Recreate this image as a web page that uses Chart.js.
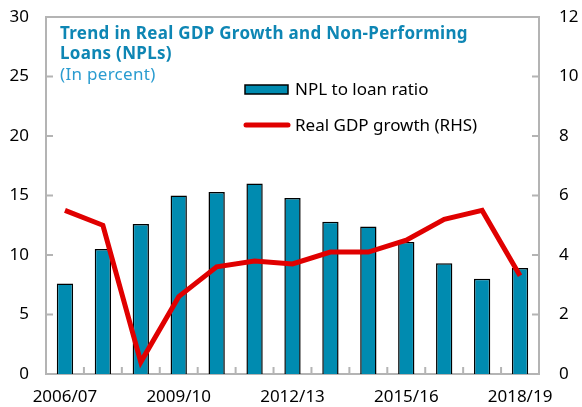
<!DOCTYPE html>
<html>
<head>
<meta charset="utf-8">
<script src="https://cdn.jsdelivr.net/npm/chart.js@4"></script>
<style>
  body { margin: 0; background: #fff; }
  #wrap { width: 582px; height: 407px; }
</style>
</head>
<body>
<div id="wrap"><canvas id="npl_chart"></canvas></div>
<script>
const years = ['2006/07', '2007/08', '2008/09', '2009/10', '2010/11', '2011/12', '2012/13',
               '2013/14', '2014/15', '2015/16', '2016/17', '2017/18', '2018/19'];
const npl_ratio = [7.6, 10.5, 12.6, 15.0, 15.3, 16.0, 14.8, 12.8, 12.4, 11.1, 9.3, 8.0, 8.9];
const gdp_growth = [5.5, 5.0, 0.4, 2.6, 3.6, 3.8, 3.7, 4.1, 4.1, 4.5, 5.2, 5.5, 3.3];

const title_lines = ['Trend in Real GDP Growth and Non-Performing', 'Loans (NPLs)'];
const subtitle = '(In percent)';
const legend_labels = ['NPL to loan ratio', 'Real GDP growth (RHS)'];

const bar_color = '#008bb0';
const line_color = '#e00000';
const frame_color = '#b4b4b4';
const font_family = '"Noto Sans", "Open Sans", sans-serif';

// title, legend, inward ticks and top border
const decorations = {
  id: 'decorations',
  afterDraw(chart) {
    const ctx = chart.ctx;
    const area = chart.chartArea;
    const x = chart.scales.x, y = chart.scales.y, y1 = chart.scales.y1;
    ctx.save();

    ctx.strokeStyle = frame_color;
    ctx.lineWidth = 2;
    ctx.beginPath();
    ctx.moveTo(area.left, area.top);
    ctx.lineTo(area.right, area.top);
    // x ticks between categories
    for (let i = 0; i < years.length - 1; i++) {
      const px = (x.getPixelForValue(i) + x.getPixelForValue(i + 1)) / 2;
      ctx.moveTo(px, area.bottom);
      ctx.lineTo(px, area.bottom - 7);
    }
    y.ticks.forEach(t => {
      const py = y.getPixelForValue(t.value);
      ctx.moveTo(area.left, py);
      ctx.lineTo(area.left + 7, py);
    });
    y1.ticks.forEach(t => {
      const py = y1.getPixelForValue(t.value);
      ctx.moveTo(area.right, py);
      ctx.lineTo(area.right - 7, py);
    });
    ctx.stroke();

    ctx.textBaseline = 'alphabetic';
    ctx.textAlign = 'left';
    ctx.letterSpacing = '0.3px';
    ctx.fillStyle = '#0e86b4';
    ctx.font = 'bold 17px ' + font_family;
    ctx.fillText(title_lines[0], 60, 39);
    ctx.fillText(title_lines[1], 60, 59);
    ctx.fillStyle = '#2a9cd0';
    ctx.font = '17px ' + font_family;
    ctx.fillText(subtitle, 60, 80);

    // legend
    ctx.letterSpacing = '0px';
    ctx.fillStyle = bar_color;
    ctx.fillRect(245, 85, 43, 9);
    ctx.strokeStyle = '#000';
    ctx.lineWidth = 1.5;
    ctx.strokeRect(245, 85, 43, 9);
    ctx.strokeStyle = line_color;
    ctx.lineWidth = 5;
    ctx.lineCap = 'round';
    ctx.beginPath();
    ctx.moveTo(246, 125);
    ctx.lineTo(288, 125);
    ctx.stroke();
    ctx.fillStyle = '#000';
    ctx.font = '17px ' + font_family;
    ctx.textBaseline = 'middle';
    ctx.fillText(legend_labels[0], 295, 90);
    ctx.fillText(legend_labels[1], 295, 126);
    ctx.restore();
  }
};

// keep the plot frame where the reference has it
const fixVertical = width => s => {
  s.width = width;
  s.paddingTop = 0;
  s.paddingBottom = 0;
};

const npl_config = {
  data: {
    labels: years,
    datasets: [{
      type: 'line',
      label: legend_labels[1],
      data: gdp_growth,
      yAxisID: 'y1',
      borderColor: line_color,
      borderWidth: 5,
      pointRadius: 0,
      tension: 0,
      order: 0
    }, {
      type: 'bar',
      label: legend_labels[0],
      data: npl_ratio,
      yAxisID: 'y',
      backgroundColor: bar_color,
      borderColor: '#000',
      borderWidth: 1.5,
      borderSkipped: 'bottom',
      barPercentage: 0.5,
      categoryPercentage: 0.86,
      order: 1
    }]
  },
  options: {
    responsive: true,
    maintainAspectRatio: false,
    animation: false,
    layout: { padding: { top: 17, right: 0, left: 0, bottom: 0 } },
    plugins: {
      legend: { display: false },
      tooltip: { enabled: false }
    },
    scales: {
      x: {
        offset: true,
        grid: { display: false, drawTicks: false },
        border: { display: true, color: frame_color, width: 2 },
        ticks: {
          autoSkip: false,
          maxRotation: 0,
          padding: 13,
          color: '#000',
          font: { size: 17, family: font_family },
          callback: function (v, i) { return i % 3 === 0 ? this.getLabelForValue(v) : ''; }
        },
        afterFit: s => { s.height = 33; s.paddingLeft = 0; s.paddingRight = 0; }
      },
      y: {
        position: 'left',
        min: 0, max: 30,
        grid: { display: false, drawTicks: false },
        border: { display: true, color: frame_color, width: 2 },
        ticks: { stepSize: 5, padding: 17, color: '#000', font: { size: 17, family: font_family } },
        afterFit: fixVertical(46)
      },
      y1: {
        position: 'right',
        min: 0, max: 12,
        grid: { display: false, drawTicks: false },
        border: { display: true, color: frame_color, width: 2 },
        ticks: { stepSize: 2, padding: 20, color: '#000', font: { size: 17, family: font_family } },
        afterFit: fixVertical(43)
      }
    }
  },
  plugins: [decorations]
};

const npl_chart = new Chart(document.getElementById('npl_chart'), npl_config);
</script>
</body>
</html>
